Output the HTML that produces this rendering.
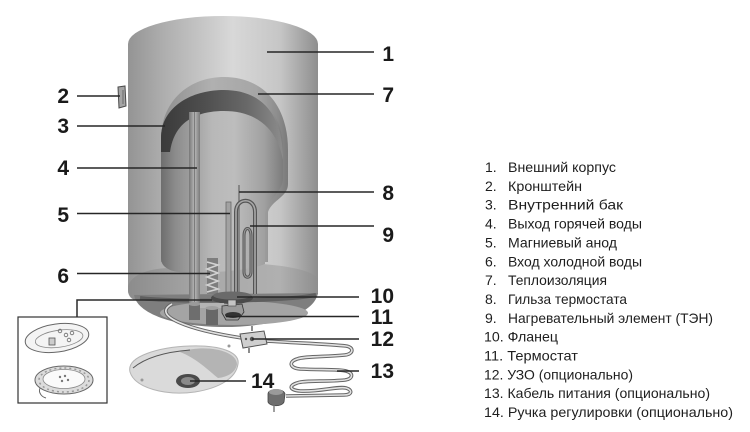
<!DOCTYPE html>
<html><head><meta charset="utf-8">
<style>
html,body{margin:0;padding:0;background:#fff;}
svg{display:block;}
.lbl{font-family:"Liberation Sans",sans-serif;font-weight:bold;font-size:21px;fill:#1a1a1a;}
.leg{font-family:"Liberation Sans","Noto Sans CJK JP",sans-serif;font-size:14px;fill:#1e1e1e;}
</style></head><body>
<svg width="750" height="432" viewBox="0 0 750 432" xmlns="http://www.w3.org/2000/svg">
<defs>
<linearGradient id="gOuter" x1="128" y1="0" x2="318" y2="0" gradientUnits="userSpaceOnUse">
<stop offset="0" stop-color="#949494"/>
<stop offset="0.18" stop-color="#adadad"/>
<stop offset="0.55" stop-color="#d8d8d8"/>
<stop offset="0.8" stop-color="#c6c6c6"/>
<stop offset="1" stop-color="#8e8e8e"/>
</linearGradient>
<linearGradient id="gInsul" x1="161" y1="0" x2="288" y2="0" gradientUnits="userSpaceOnUse">
<stop offset="0" stop-color="#8e8e8e"/>
<stop offset="0.4" stop-color="#b0b0b0"/>
<stop offset="0.75" stop-color="#a6a6a6"/>
<stop offset="0.92" stop-color="#8c8c8c"/>
<stop offset="1" stop-color="#7a7a7a"/>
</linearGradient>
<linearGradient id="gInner" x1="161" y1="0" x2="283" y2="0" gradientUnits="userSpaceOnUse">
<stop offset="0" stop-color="#6e6e6e"/>
<stop offset="0.12" stop-color="#8c8c8c"/>
<stop offset="0.42" stop-color="#b8b8b8"/>
<stop offset="0.6" stop-color="#bdbdbd"/>
<stop offset="0.85" stop-color="#a0a0a0"/>
<stop offset="1" stop-color="#7c7c7c"/>
</linearGradient>
<linearGradient id="gCres" x1="161" y1="0" x2="283" y2="0" gradientUnits="userSpaceOnUse">
<stop offset="0" stop-color="#3a3a3a"/>
<stop offset="0.35" stop-color="#4e4e4e"/>
<stop offset="0.7" stop-color="#686868"/>
<stop offset="1" stop-color="#8c8c8c"/>
</linearGradient>
<linearGradient id="gBand" x1="128" y1="0" x2="318" y2="0" gradientUnits="userSpaceOnUse">
<stop offset="0" stop-color="#8c8c8c"/>
<stop offset="0.4" stop-color="#a8a8a8"/>
<stop offset="0.8" stop-color="#b0b0b0"/>
<stop offset="1" stop-color="#8e8e8e"/>
</linearGradient>
<linearGradient id="gPipe" x1="0" y1="0" x2="1" y2="0">
<stop offset="0" stop-color="#777"/>
<stop offset="0.5" stop-color="#b8b8b8"/>
<stop offset="1" stop-color="#7a7a7a"/>
</linearGradient>
</defs>

<!-- outer body -->
<path d="M128,44 A95,28 0 0 1 318,44 L318,290 C318,298 312,302 300,302 L146,302 C134,302 128,298 128,290 Z" fill="url(#gOuter)"/>

<!-- bottom insulation band -->
<path d="M128,286 C132,274 150,268 172,268 L262,264 C288,266 310,270 318,278 L318,292 C318,298 312,301 300,301 L146,301 C134,301 128,297 128,290 Z" fill="url(#gBand)"/>

<!-- dish -->
<path d="M134,295 C142,338 310,338 318,293 Z" fill="#7e7e7e"/>
<ellipse cx="234" cy="313" rx="74" ry="12" fill="#a4a4a4"/>
<path d="M140,298 C170,302 280,302 316,295" stroke="#5e5e5e" stroke-width="4" fill="none"/>

<!-- insulation arch -->
<path d="M161,262 L161,140 C161,100 190,77 224,77 C262,77 288,104 288,150 L288,184 C288,197 272,200 268,212 L268,262 Z" fill="url(#gInsul)"/>

<!-- inner tank -->
<path d="M161,258 L161,138 C161,108 190,90 224,90 C258,90 283,110 283,150 L283,178 C283,192 267,200 265,214 L265,264 C245,272 195,274 178,272 C166,270 161,265 161,258 Z" fill="url(#gInner)"/>
<path d="M161,152 L161,138 C161,108 190,90 224,90 C258,90 283,110 283,160 C276,124 252,111 224,111 C196,111 174,122 170,152 Z" fill="url(#gCres)"/>

<!-- hot water pipe (4) -->
<rect x="189" y="112" width="11" height="192" fill="url(#gPipe)"/>
<line x1="194.5" y1="112" x2="194.5" y2="304" stroke="#6e6e6e" stroke-width="0.8"/>

<!-- cold inlet spring (6) -->
<rect x="207" y="258" width="11" height="36" fill="#7e7e7e"/>
<polyline points="207,262 218,265 207,269 218,273 207,277 218,281 207,285 218,289 207,292" fill="none" stroke="#d2d2d2" stroke-width="1.6"/>

<!-- anode (5) -->
<rect x="226" y="202" width="5" height="92" fill="#a2a2a2" stroke="#6a6a6a" stroke-width="0.8"/>

<!-- thermostat sleeve (8) -->
<line x1="239" y1="185" x2="239" y2="294" stroke="#7a7a7a" stroke-width="1.6"/>

<!-- heating element (9) -->
<path d="M236,294 L236,212 C236,197 255,197 255,212 L255,294" fill="none" stroke="#555" stroke-width="4"/>
<path d="M236,294 L236,212 C236,197 255,197 255,212 L255,294" fill="none" stroke="#a8a8a8" stroke-width="1.6"/>
<path d="M244,272 L244,236 C244,226 251,226 251,236 L251,272 C251,279 244,279 244,272 Z" fill="none" stroke="#555" stroke-width="3"/>
<path d="M244,272 L244,236 C244,226 251,226 251,236 L251,272 C251,279 244,279 244,272 Z" fill="none" stroke="#9a9a9a" stroke-width="1"/>

<!-- flange (10) -->
<ellipse cx="232" cy="298" rx="21" ry="6" fill="#4a4a4a"/>
<ellipse cx="232" cy="295.5" rx="19" ry="4" fill="#6a6a6a"/>

<!-- fittings -->
<rect x="189" y="304" width="11" height="16" fill="#6e6e6e"/>
<ellipse cx="194.5" cy="304" rx="6" ry="2" fill="#9a9a9a"/>
<rect x="200" y="303" width="24" height="5" fill="#b4b4b4"/>
<rect x="206" y="308" width="12" height="17" fill="#686868"/>
<ellipse cx="212" cy="308" rx="6.5" ry="2" fill="#a0a0a0"/>

<!-- thermostat (11) -->
<path d="M222,306 L242,304 L244,312 L238,320 L226,320 L222,313 Z" fill="#9a9a9a" stroke="#333" stroke-width="0.8"/>
<ellipse cx="233" cy="315" rx="8" ry="3" fill="#333"/>
<rect x="228" y="300" width="8" height="6" fill="#c4c4c4" stroke="#444" stroke-width="0.6"/>

<!-- bracket (2) -->
<path d="M118,87 L125,86 L126,106 L119,108 Z" fill="#a4a4a4" stroke="#4a4a4a" stroke-width="1"/>
<line x1="123" y1="90" x2="123" y2="104" stroke="#6a6a6a" stroke-width="1"/>

<!-- cable -->
<path d="M172,304 C150,316 190,330 242,338" fill="none" stroke="#666" stroke-width="3.6"/>
<path d="M172,304 C150,316 190,330 242,338" fill="none" stroke="#e2e2e2" stroke-width="1.6"/>
<path d="M266,341 C295,343 330,344 346,346 C354,347 354,354 345,355 C325,357 305,356 297,359 C288,362 290,368 300,369 C320,370 340,369 346,371 C354,373 353,379 345,380 C325,382 305,380 297,383 C288,386 290,390 300,391 C320,392 338,386 346,388 C353,390 352,395 344,395 L286,396" fill="none" stroke="#666" stroke-width="3.6"/>
<path d="M266,341 C295,343 330,344 346,346 C354,347 354,354 345,355 C325,357 305,356 297,359 C288,362 290,368 300,369 C320,370 340,369 346,371 C354,373 353,379 345,380 C325,382 305,380 297,383 C288,386 290,390 300,391 C320,392 338,386 346,388 C353,390 352,395 344,395 L286,396" fill="none" stroke="#e2e2e2" stroke-width="1.6"/>

<!-- RCD (12) -->
<path d="M240,334 L264,331 L267,344 L243,348 Z" fill="#cfcfcf" stroke="#555" stroke-width="1"/>
<circle cx="252" cy="339" r="2.2" fill="#555"/>
<circle cx="246" cy="339" r="1.2" fill="#555"/>
<line x1="252" y1="331" x2="252" y2="326" stroke="#666" stroke-width="1.5"/>
<line x1="249" y1="348" x2="249" y2="353" stroke="#666" stroke-width="1.5"/>

<!-- plug -->
<path d="M268,394 C268,388 284,388 285,394 L284,402 C282,407 270,407 268,402 Z" fill="#6e6e6e" stroke="#444" stroke-width="0.8"/>
<ellipse cx="276" cy="392" rx="7" ry="3" fill="#9a9a9a"/>
<line x1="274" y1="405" x2="274" y2="412" stroke="#777" stroke-width="1.4"/>

<!-- cover (14) -->
<path d="M130,372 C126,356 160,347 190,346 C220,345 240,352 238,364 C236,378 220,388 195,392 C165,396 135,388 130,372 Z" fill="#dadada" stroke="#b4b4b4" stroke-width="1"/>
<path d="M180,352 C205,344 236,350 237,364 C236,372 228,377 218,378 C208,370 196,358 180,352 Z" fill="#b4b4b4"/>
<path d="M133,368 C145,358 165,352 190,350" fill="none" stroke="#555" stroke-width="1"/>
<ellipse cx="188" cy="381" rx="12" ry="7" fill="#4a4a4a"/>
<ellipse cx="188" cy="381" rx="7" ry="4" fill="#8a8a8a"/>
<circle cx="229" cy="346" r="1.5" fill="#999"/>
<circle cx="142" cy="380" r="1.5" fill="#999"/>

<!-- inset -->
<rect x="18" y="317" width="89" height="86" fill="#fff" stroke="#333" stroke-width="1.2"/>
<polyline points="77,317 77,300 212,300" fill="none" stroke="#2a2a2a" stroke-width="1.5"/>
<g transform="rotate(-8 57 338)">
<ellipse cx="57" cy="338" rx="32" ry="14" fill="#f4f4f4" stroke="#666" stroke-width="1"/>
<ellipse cx="59" cy="339" rx="24" ry="8.5" fill="none" stroke="#888" stroke-width="0.8"/>
</g>
<circle cx="60" cy="331" r="1.8" fill="none" stroke="#666" stroke-width="0.8"/>
<circle cx="66" cy="335" r="1.8" fill="none" stroke="#666" stroke-width="0.8"/>
<circle cx="72" cy="333" r="1.8" fill="none" stroke="#666" stroke-width="0.8"/>
<circle cx="69" cy="340" r="1.8" fill="none" stroke="#666" stroke-width="0.8"/>
<rect x="49" y="338" width="6" height="7" fill="#ccc" stroke="#555" stroke-width="0.8"/>
<ellipse cx="64" cy="380" rx="29" ry="14" fill="#dcdcdc" stroke="#666" stroke-width="1"/>
<ellipse cx="64" cy="379" rx="21" ry="9.5" fill="#fafafa" stroke="#888" stroke-width="0.8"/>
<ellipse cx="64" cy="380" rx="25" ry="12" fill="none" stroke="#999" stroke-width="1.5" stroke-dasharray="2 3"/>
<circle cx="60" cy="377" r="1.2" fill="#777"/>
<circle cx="65" cy="376" r="1.2" fill="#777"/>
<circle cx="62" cy="381" r="1.2" fill="#777"/>
<circle cx="68" cy="380" r="1.2" fill="#777"/>
<path d="M40,388 C38,393 42,397 46,398" fill="none" stroke="#666" stroke-width="1"/>

<!-- leader lines -->
<g stroke="#262626" stroke-width="1.6">
<line x1="267" y1="52" x2="374" y2="52"/>
<line x1="258" y1="94" x2="374" y2="94"/>
<line x1="239" y1="192" x2="374" y2="192"/>
<line x1="250" y1="226" x2="374" y2="226"/>
<line x1="237" y1="297" x2="359" y2="297"/>
<line x1="226" y1="316.5" x2="359" y2="316.5"/>
<line x1="252" y1="339" x2="359" y2="339"/>
<line x1="337" y1="371" x2="359" y2="371"/>
<line x1="190" y1="381" x2="246" y2="381"/>
<line x1="77" y1="96" x2="120" y2="96"/>
<line x1="77" y1="126" x2="165" y2="126"/>
<line x1="77" y1="168" x2="197" y2="168"/>
<line x1="77" y1="213.5" x2="230" y2="213.5"/>
<line x1="77" y1="273.5" x2="210" y2="273.5"/>
</g>

<!-- number labels -->
<g class="lbl">
<text x="394" y="61" text-anchor="end">1</text>
<text x="394" y="102" text-anchor="end">7</text>
<text x="394" y="200" text-anchor="end">8</text>
<text x="394" y="242" text-anchor="end">9</text>
<text x="394" y="303" text-anchor="end">10</text>
<text x="393" y="324" text-anchor="end">11</text>
<text x="394" y="346" text-anchor="end">12</text>
<text x="394" y="378" text-anchor="end">13</text>
<text x="251" y="388">14</text>
<text x="69" y="103" text-anchor="end">2</text>
<text x="69" y="133" text-anchor="end">3</text>
<text x="69" y="175" text-anchor="end">4</text>
<text x="69" y="222" text-anchor="end">5</text>
<text x="69" y="283" text-anchor="end">6</text>
</g>

<!-- legend -->
<g class="leg">
<text x="485" y="172">1.</text><text x="508" y="172" textLength="108" lengthAdjust="spacingAndGlyphs">Внешний корпус</text>
<text x="485" y="190.9">2.</text><text x="508" y="190.9" textLength="74" lengthAdjust="spacingAndGlyphs">Кронштейн</text>
<text x="485" y="209.7">3.</text><text x="508" y="209.7" textLength="115" lengthAdjust="spacingAndGlyphs">Внутренний бак</text>
<text x="485" y="228.6">4.</text><text x="508" y="228.6" textLength="134" lengthAdjust="spacingAndGlyphs">Выход горячей воды</text>
<text x="485" y="247.4">5.</text><text x="508" y="247.4" textLength="109" lengthAdjust="spacingAndGlyphs">Магниевый анод</text>
<text x="485" y="266.3">6.</text><text x="508" y="266.3" textLength="134" lengthAdjust="spacingAndGlyphs">Вход холодной воды</text>
<text x="485" y="285.1">7.</text><text x="508" y="285.1" textLength="99" lengthAdjust="spacingAndGlyphs">Теплоизоляция</text>
<text x="485" y="304">8.</text><text x="508" y="304" textLength="119" lengthAdjust="spacingAndGlyphs">Гильза термостата</text>
<text x="485" y="322.8">9.</text><text x="508" y="322.8" textLength="205" lengthAdjust="spacingAndGlyphs">Нагревательный элемент (ТЭН)</text>
<text x="484" y="341.7" textLength="74" lengthAdjust="spacingAndGlyphs">10. Фланец</text>
<text x="484" y="360.5" textLength="94" lengthAdjust="spacingAndGlyphs">11. Термостат</text>
<text x="484" y="379.4" textLength="149" lengthAdjust="spacingAndGlyphs">12. УЗО (опционально)</text>
<text x="484" y="398.2" textLength="226" lengthAdjust="spacingAndGlyphs">13. Кабель питания (опционально)</text>
<text x="484" y="417" textLength="249" lengthAdjust="spacingAndGlyphs">14. Ручка регулировки (опционально)</text>
</g>
</svg>
</body></html>
